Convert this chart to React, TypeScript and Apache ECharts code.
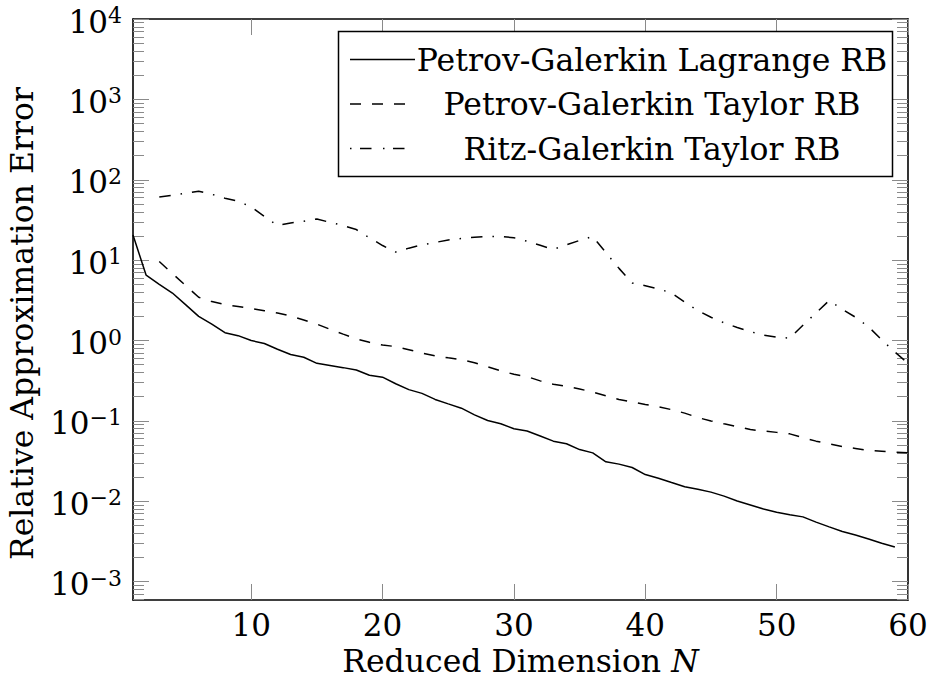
import React, { useEffect, useRef } from "react";
import * as echarts from "echarts";

// ---- data ----
const X_TICKS = [10, 20, 30, 40, 50, 60];
const Y_EXPONENTS = [-3, -2, -1, 0, 1, 2, 3, 4];
const SERIES_NAMES = [
  "Petrov-Galerkin Lagrange RB",
  "Petrov-Galerkin Taylor RB",
  "Ritz-Galerkin Taylor RB",
];

const lagrangeStartN = 1;
const lagrangeValues = [
  20.5, 6.5, 5.0, 3.9, 2.8, 2.0, 1.6, 1.25, 1.15, 1.0,
  0.92, 0.78, 0.67, 0.62, 0.52, 0.49, 0.46, 0.43, 0.37, 0.35,
  0.29, 0.245, 0.22, 0.185, 0.163, 0.144, 0.119, 0.101, 0.092, 0.08,
  0.075, 0.065, 0.056, 0.052, 0.044, 0.04, 0.031, 0.029, 0.0263, 0.0215,
  0.0193, 0.0171, 0.0152, 0.0141, 0.013, 0.0116, 0.0101, 0.009, 0.008, 0.0073,
  0.0068, 0.0064, 0.0055, 0.0048, 0.0042, 0.0038, 0.0034, 0.003, 0.0027,
];

const taylorStartN = 3;
const taylorValues = [
  9.6, 6.8, 4.85, 3.45, 3.05, 2.8, 2.65, 2.5, 2.35, 2.2,
  2.02, 1.8, 1.6, 1.38, 1.2, 1.05, 0.95, 0.88, 0.84, 0.77,
  0.7, 0.645, 0.61, 0.58, 0.53, 0.47, 0.42, 0.38, 0.356, 0.315,
  0.285, 0.27, 0.25, 0.228, 0.205, 0.185, 0.172, 0.16, 0.15, 0.138,
  0.125, 0.11, 0.1, 0.092, 0.085, 0.078, 0.075, 0.072, 0.069, 0.062,
  0.056, 0.052, 0.048, 0.0455, 0.043, 0.042, 0.041, 0.04,
];

const ritzStartN = 3;
const ritzValues = [
  61, 64, 68, 72, 66, 59, 54, 46, 35, 27,
  29, 30.5, 32.5, 29.5, 27, 24, 19, 15.2, 12.6, 14.1,
  15.5, 16.6, 17.8, 18.6, 19.3, 19.7, 19.7, 19.0, 17.2, 15.3,
  13.6, 15.5, 17.6, 19.7, 12.4, 7.9, 5.2, 4.8, 4.4, 3.9,
  3.0, 2.35, 1.95, 1.66, 1.45, 1.29, 1.17, 1.1, 1.07, 1.55,
  2.2, 3.15, 2.45, 1.95, 1.48, 1.02, 0.72, 0.52,
];

// ---- layout / style ----
const FONT = "DejaVu Serif";
const Y_MIN_EXP = -3.228;
const Y_MAX_EXP = 4;
const X_MIN = 1;
const X_MAX = 60;
const TICK_COLOR = "#8a8a8a";
const DASHED = [11, 11];
const DASHDOT = [11.5, 10, 1.5, 10];

const minorTicks: number[] = [];
for (let k = -4; k < 4; k++) {
  for (let m = 2; m <= 9; m++) {
    const v = k + Math.log10(m);
    if (v >= Y_MIN_EXP && v <= Y_MAX_EXP) minorTicks.push(v);
  }
}

const toPairs = (start: number, values: number[]) =>
  values.map((v, i) => [start + i, Math.log10(v)]);

const expLabel = (v: number) => {
  const e = Math.round(v);
  const s = e < 0 ? "\u2212" + String(-e) : String(e);
  return `{b|10}{s|${s}}`;
};

export default function App() {
  const ref = useRef<HTMLDivElement>(null);

  useEffect(() => {
    if (!ref.current) return;
    const chart = echarts.init(ref.current, undefined, { renderer: "svg" });

    const yBase = {
      type: "value" as const,
      min: Y_MIN_EXP,
      max: Y_MAX_EXP,
      splitLine: { show: false },
    };
    const xBase = {
      type: "value" as const,
      min: X_MIN,
      max: X_MAX,
      splitLine: { show: false },
    };
    const axisLineStyle = { color: "#000", width: 1.6 };

    const legendRows = [59.5, 104, 148.5];
    const legendDash: (number[] | null)[] = [null, DASHED, [1.5, 8.5, 11.5, 11.5]];

    const graphic: any[] = [
      {
        type: "rect",
        z: 100,
        shape: { x: 338.5, y: 31.5, width: 554, height: 145 },
        style: { fill: "#fff", stroke: "#000", lineWidth: 1.5 },
      },
    ];
    legendRows.forEach((y, i) => {
      graphic.push({
        type: "line",
        z: 101,
        shape: { x1: 350, y1: y, x2: 415, y2: y },
        style: {
          stroke: "#000",
          lineWidth: 1.5,
          lineDash: legendDash[i] || undefined,
        },
      });
      graphic.push({
        type: "text",
        z: 101,
        x: 652,
        y: y,
        style: {
          text: SERIES_NAMES[i],
          fontSize: 31.5,
          fontFamily: FONT,
          fill: "#000",
          textAlign: "center",
          textVerticalAlign: "middle",
        },
      });
    });

    chart.setOption({
      animation: false,
      backgroundColor: "#fff",
      textStyle: { fontFamily: FONT },
      grid: {
        left: 133,
        right: 22,
        top: 19,
        bottom: 79,
        containLabel: false,
        outerBoundsMode: "none",
      },
      xAxis: [
        {
          ...xBase,
          position: "bottom",
          axisLine: { show: true, onZero: false, lineStyle: axisLineStyle },
          axisTick: {
            show: true,
            inside: true,
            length: 16,
            customValues: X_TICKS,
            lineStyle: { color: TICK_COLOR, width: 1 },
          },
          axisLabel: {
            show: true,
            customValues: X_TICKS,
            margin: 9,
            color: "#000",
            fontSize: 31,
            fontFamily: FONT,
          },
          name: "Reduced Dimension {i|N}",
          nameLocation: "middle",
          nameGap: 43,
          nameTextStyle: {
            color: "#000",
            fontSize: 31.5,
            fontFamily: FONT,
            lineHeight: 30,
            rich: {
              i: { fontStyle: "italic", fontSize: 31.5, fontFamily: FONT, color: "#000", lineHeight: 30 },
            },
          },
        },
        {
          ...xBase,
          position: "top",
          axisLine: { show: true, onZero: false, lineStyle: axisLineStyle },
          axisTick: {
            show: true,
            inside: true,
            length: 16,
            customValues: X_TICKS,
            lineStyle: { color: TICK_COLOR, width: 1 },
          },
          axisLabel: { show: false },
        },
      ],
      yAxis: [
        {
          ...yBase,
          position: "left",
          axisLine: { show: true, onZero: false, lineStyle: axisLineStyle },
          axisTick: {
            show: true,
            inside: true,
            length: 16,
            customValues: Y_EXPONENTS,
            lineStyle: { color: TICK_COLOR, width: 1 },
          },
          axisLabel: {
            show: true,
            customValues: Y_EXPONENTS,
            margin: 11,
            padding: [5, 0, 0, 0],
            formatter: (v: number) => expLabel(v),
            rich: {
              b: { fontSize: 31, fontFamily: FONT, color: "#000", lineHeight: 34 },
              s: { fontSize: 22, fontFamily: FONT, color: "#000", lineHeight: 18, verticalAlign: "top" },
            },
          },
          name: "Relative Approximation Error",
          nameLocation: "middle",
          nameGap: 90,
          nameTextStyle: {
            color: "#000",
            fontSize: 31.5,
            fontFamily: FONT,
            lineHeight: 34,
            padding: [0, 28, 0, 0],
          },
        },
        {
          ...yBase,
          position: "left",
          axisLine: { show: false },
          axisTick: {
            show: true,
            inside: true,
            length: 11,
            customValues: minorTicks,
            lineStyle: { color: TICK_COLOR, width: 1 },
          },
          axisLabel: { show: false },
        },
        {
          ...yBase,
          position: "right",
          axisLine: { show: true, onZero: false, lineStyle: axisLineStyle },
          axisTick: {
            show: true,
            inside: true,
            length: 16,
            customValues: Y_EXPONENTS,
            lineStyle: { color: TICK_COLOR, width: 1 },
          },
          axisLabel: { show: false },
        },
        {
          ...yBase,
          position: "right",
          axisLine: { show: false },
          axisTick: {
            show: true,
            inside: true,
            length: 11,
            customValues: minorTicks,
            lineStyle: { color: TICK_COLOR, width: 1 },
          },
          axisLabel: { show: false },
        },
      ],
      series: [
        {
          name: SERIES_NAMES[0],
          type: "line",
          xAxisIndex: 0,
          yAxisIndex: 0,
          data: toPairs(lagrangeStartN, lagrangeValues),
          symbol: "none",
          showSymbol: false,
          silent: true,
          lineStyle: { color: "#000", width: 1.5, type: "solid" },
        },
        {
          name: SERIES_NAMES[1],
          type: "line",
          xAxisIndex: 0,
          yAxisIndex: 0,
          data: toPairs(taylorStartN, taylorValues),
          symbol: "none",
          showSymbol: false,
          silent: true,
          lineStyle: { color: "#000", width: 1.5, type: DASHED },
        },
        {
          name: SERIES_NAMES[2],
          type: "line",
          xAxisIndex: 0,
          yAxisIndex: 0,
          data: toPairs(ritzStartN, ritzValues),
          symbol: "none",
          showSymbol: false,
          silent: true,
          lineStyle: { color: "#000", width: 1.5, type: DASHDOT },
        },
      ],
      graphic,
    });

    return () => chart.dispose();
  }, []);

  return (
    <div
      ref={ref}
      style={{ position: "fixed", left: 0, top: 0, width: 930, height: 679, background: "#fff" }}
    />
  );
}
